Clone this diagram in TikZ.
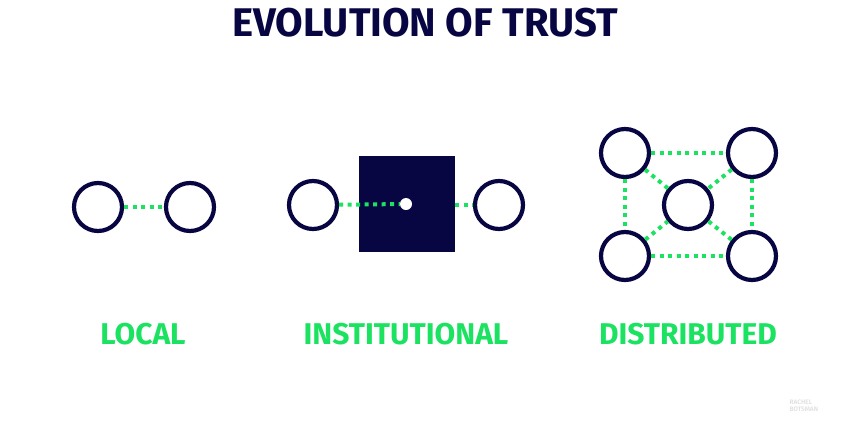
\documentclass[tikz,border=0pt]{standalone}
\usepackage{fontspec}
\setmainfont{Fira Sans}
\usetikzlibrary{positioning}
\definecolor{navy}{RGB}{8,6,66}
\definecolor{mint}{RGB}{28,226,98}
\definecolor{haze}{RGB}{226,226,226}
\tikzset{
  peer/.style={circle, draw=navy, line width=4.2pt, minimum size=48pt, inner sep=0pt, fill=white},
  hub/.style={rectangle, fill=navy, minimum size=96pt, inner sep=0pt},
  pin/.style={circle, fill=white, minimum size=12pt, inner sep=0pt},
  link/.style={draw=mint, line width=4pt, dash pattern=on 4pt off 4.5pt},
  heading/.style={font=\fontsize{40}{40}\selectfont\bfseries, text=navy},
  tag/.style={font=\fontsize{30}{30}\selectfont\bfseries, text=mint},
  credit/.style={font=\fontsize{6.5}{7.5}\selectfont\bfseries, text=haze, align=left},
}
\begin{document}
\begin{tikzpicture}[x=1pt, y=-1pt]
  \useasboundingbox (0,0) rectangle (849,424);
  \node[heading] (title) at (425,23) {EVOLUTION OF TRUST};
  % local
  \node[peer] (la) at (98,207) {};
  \node[peer] (lb) at (190,207) {};
  \draw[link] (la) -- (lb);
  \node[tag] (local) at (143,334) {LOCAL};
  % institutional
  \node[hub] (bank) at (407,204) {};
  \node[pin] (core) at (406,204) {};
  \node[peer] (ia) at (313,205) {};
  \node[peer] (ib) at (499,205) {};
  \draw[link] (ia) -- (core);
  \draw[link] (bank.east |- ib) -- (ib);
  \node[tag] (inst) at (406,334) {INSTITUTIONAL};
  % distributed
  \node[peer] (nw) at (625,153) {};
  \node[peer] (ne) at (752,153) {};
  \node[peer] (sw) at (625,256) {};
  \node[peer] (se) at (752,256) {};
  \node[peer] (mid) at (688,205) {};
  \foreach \a/\b in {nw/ne, sw/se, nw/sw, ne/se, nw/mid, ne/mid, sw/mid, se/mid}
    \draw[link] (\a) -- (\b);
  \node[tag] (dist) at (688,334) {DISTRIBUTED};
  \node[credit, anchor=north west] (name) at (786,396) {RACHEL\\BOTSMAN};
\end{tikzpicture}
\end{document}
